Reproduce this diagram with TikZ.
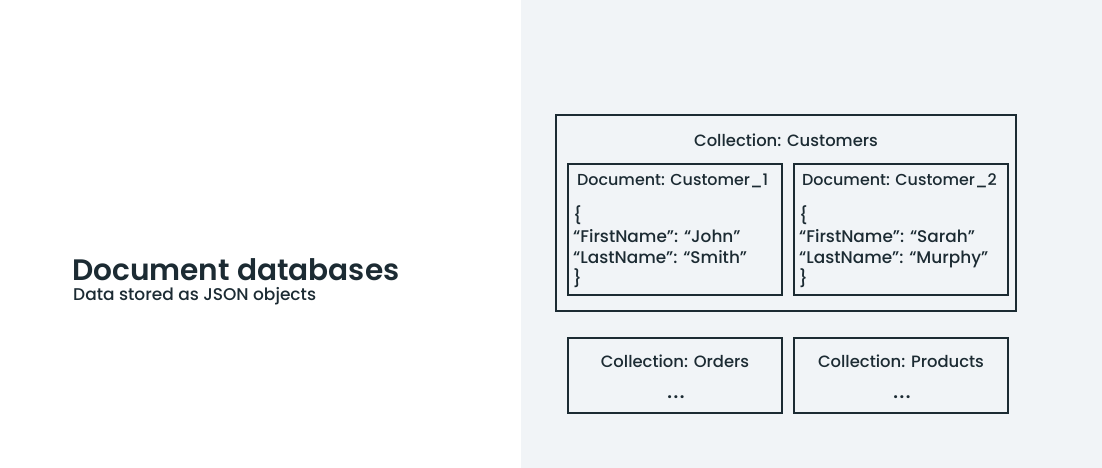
\documentclass[tikz,border=0pt]{standalone}
\usepackage{fontspec}
\setmainfont{Poppins}[UprightFont=* Medium, BoldFont=* SemiBold]
\definecolor{ink}{HTML}{1C2B33}
\definecolor{panel}{HTML}{F1F4F7}
\begin{document}
\begin{tikzpicture}[x=1pt,y=-1pt,
  box/.style={draw=ink,line width=1.6pt},
  lbl/.style={text=ink,font=\fontsize{16.4}{18}\selectfont,inner sep=0pt},
  doclbl/.style={text=ink,font=\fontsize{15.9}{18}\selectfont,inner sep=0pt,anchor=west},
  dots/.style={text=ink,font=\fontsize{18}{20}\selectfont\bfseries,inner sep=0pt},
  json/.style={text=ink,font=\fontsize{16.9}{21}\selectfont,inner sep=0pt,align=left,anchor=north west}]
% page and right-hand panel
\fill[white] (0,0) rectangle (1102,468);
\fill[panel] (521,0) rectangle (1102,468);
\useasboundingbox (0,0) rectangle (1102,468);
% title block
\node[text=ink,font=\fontsize{29.6}{34}\selectfont\bfseries,anchor=west,inner sep=0pt] (title) at (72,270) {Document databases};
\node[text=ink,font=\fontsize{17}{18}\selectfont,anchor=west,inner sep=0pt] (sub) at (73,296) {Data stored as JSON objects};
% collection of customers
\draw[box] (556,115) rectangle (1016,311);
\node[lbl] (cust) at (786,140) {Collection: Customers};
\draw[box] (568,164) rectangle (782,295);
\draw[box] (794,164) rectangle (1008,295);
\node[doclbl] (d1) at (577,181) {Document: Customer\_1};
\node[doclbl] (d2) at (802,181) {Document: Customer\_2};
\node[json] (j1) at (573,205) {\{\\“FirstName”: “John”\\“LastName”: “Smith”\\\}};
\node[json] (j2) at (799,205) {\{\\“FirstName”: “Sarah”\\“LastName”: “Murphy”\\\}};
% other collections
\draw[box] (568,338) rectangle (782,413);
\draw[box] (794,338) rectangle (1008,413);
\node[lbl] (ord) at (675,361) {Collection: Orders};
\node[lbl] (prod) at (901,361) {Collection: Products};
\node[dots] (od) at (676,397) {.\kern1.5pt.\kern1.5pt.};
\node[dots] (pd) at (902,397) {.\kern1.5pt.\kern1.5pt.};
\end{tikzpicture}
\end{document}
